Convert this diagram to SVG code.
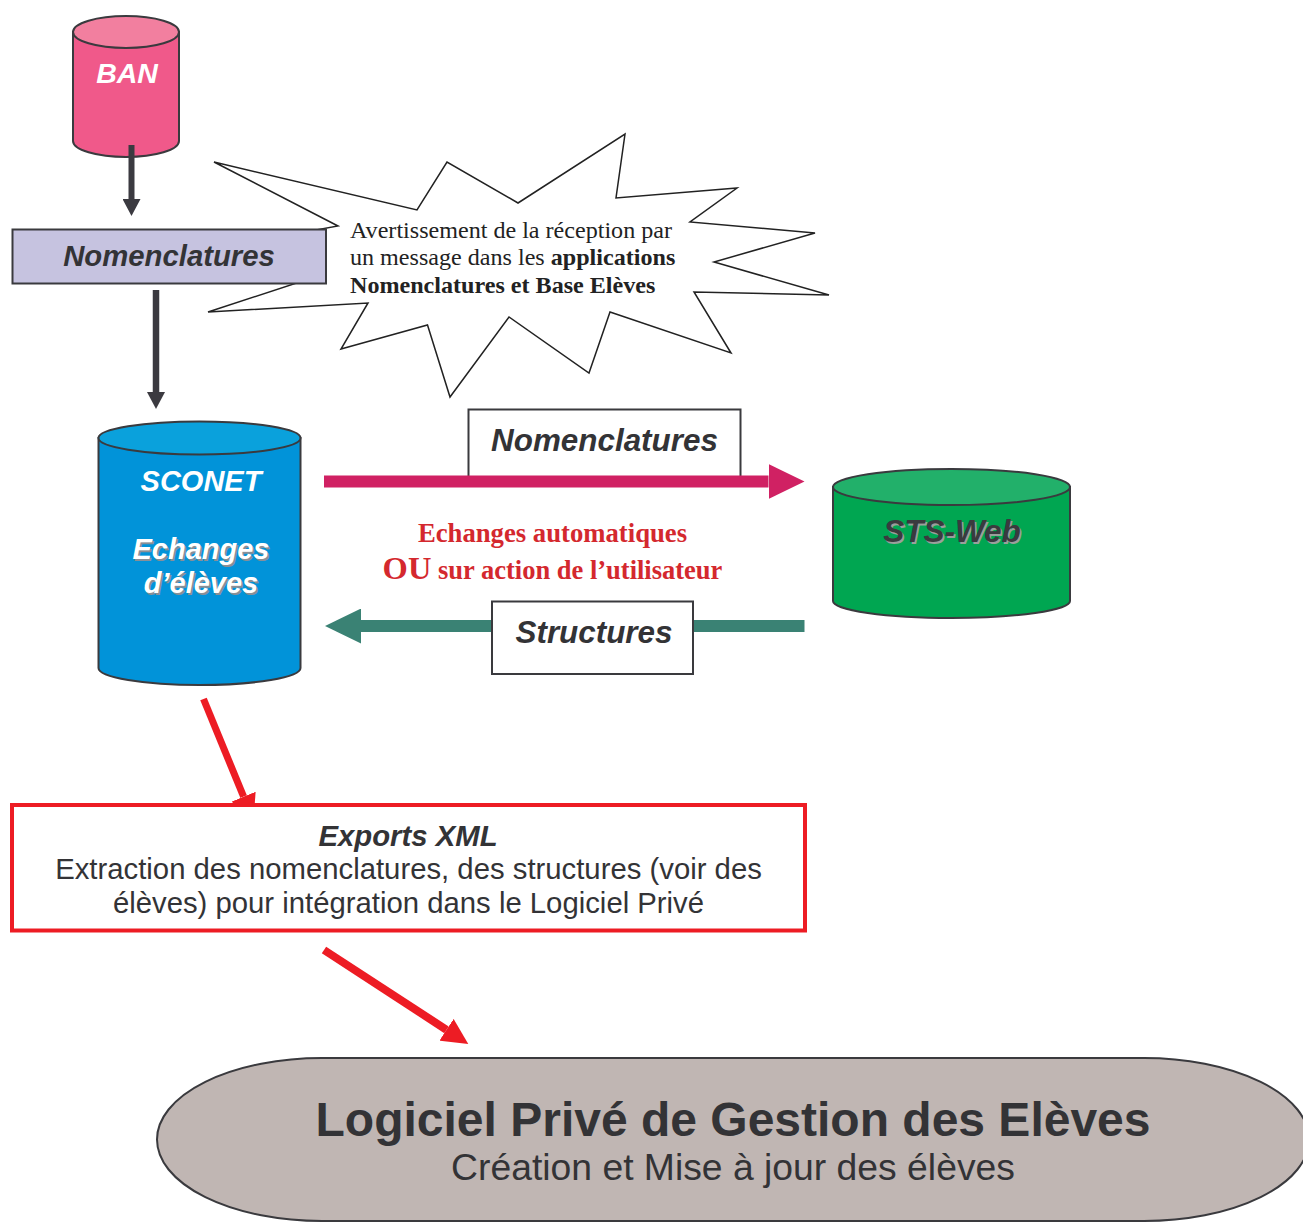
<svg xmlns="http://www.w3.org/2000/svg" width="1303" height="1223" viewBox="0 0 1303 1223">
<defs>
<style>
.sans{font-family:"Liberation Sans",Arial,sans-serif}
.serif{font-family:"Liberation Serif","Times New Roman",serif}
.bi{font-weight:bold;font-style:italic}
.lbl{fill:#333336}
.cyl{stroke:#3a3a3e;stroke-width:2}
</style>
<marker id="hDark" markerUnits="userSpaceOnUse" markerWidth="17" markerHeight="18" refX="0" refY="9" orient="auto"><path d="M0,0 L17,9 L0,18 z" fill="#3b3a40"/></marker>
<marker id="hPink" markerUnits="userSpaceOnUse" markerWidth="36" markerHeight="35" refX="0" refY="17.5" orient="auto"><path d="M0,0 L36,17.5 L0,35 z" fill="#d02163"/></marker>
<marker id="hTeal" markerUnits="userSpaceOnUse" markerWidth="36" markerHeight="35" refX="0" refY="17.5" orient="auto"><path d="M0,0 L36,17.5 L0,35 z" fill="#3a8274"/></marker>
<marker id="hRed" markerUnits="userSpaceOnUse" markerWidth="26" markerHeight="26" refX="0" refY="13" orient="auto"><path d="M0,0 L26,13 L0,26 z" fill="#ed1c24"/></marker>
</defs>

<g id="bubble">
<polygon points="214,162 417,210 447,162 518,203 625,134 616,198 737,188 690,222 815,233 714,262 829,295 694,292 731,353 610,312 589,373 509,317 450,397 427.5,325 341,349 368,303 208,312 315,277 310,231 338,226" fill="#ffffff" stroke="#222" stroke-width="1.5"/>
<text class="serif" font-size="24.1" fill="#222" x="350" y="238">Avertissement de la réception par</text>
<text class="serif" font-size="24.1" fill="#222" x="350" y="265">un message dans les <tspan font-weight="bold">applications</tspan></text>
<text class="serif" font-size="24.1" fill="#222" font-weight="bold" x="350" y="293">Nomenclatures et Base Elèves</text>
</g>

<g id="ban">
<path class="cyl" d="M73,32 L73,141 A53,16 0 0 0 179,141 L179,32 Z" fill="#f0598a"/>
<ellipse class="cyl" cx="126" cy="32" rx="53" ry="16" fill="#f27f9f"/>
<text class="sans bi" font-size="28.5" fill="#ffffff" x="127" y="83" text-anchor="middle">BAN</text>
</g>

<g id="nomenclatures1">
<rect x="12.5" y="229.5" width="313.5" height="54" fill="#c6c3e0" stroke="#3a3a3e" stroke-width="2"/>
<text class="sans bi lbl" font-size="29.3" x="169" y="265.5" text-anchor="middle">Nomenclatures</text>
</g>

<g id="sconet">
<path class="cyl" d="M98.5,438 L98.5,668 A101,17 0 0 0 300.5,668 L300.5,438 Z" fill="#0193d9"/>
<ellipse class="cyl" cx="199.5" cy="438" rx="101" ry="16.5" fill="#0aa1dc"/>
<text class="sans bi" font-size="29" fill="#ffffff" x="201" y="491" text-anchor="middle">SCONET</text>
<text class="sans bi" font-size="29" fill="#8a8f96" x="202.5" y="560.5" text-anchor="middle">Echanges</text>
<text class="sans bi" font-size="29" fill="#8a8f96" x="202.5" y="594.5" text-anchor="middle">d’élèves</text>
<text class="sans bi" font-size="29" fill="#ffffff" x="201" y="559" text-anchor="middle">Echanges</text>
<text class="sans bi" font-size="29" fill="#ffffff" x="201" y="593" text-anchor="middle">d’élèves</text>
</g>

<g id="stsweb">
<path class="cyl" d="M833,487 L833,601 A118.5,17 0 0 0 1070,601 L1070,487 Z" fill="#00a651"/>
<ellipse class="cyl" cx="951.5" cy="487" rx="118.5" ry="18" fill="#22b06a"/>
<text class="sans bi" font-size="31.5" fill="#9aa09c" x="953.5" y="543.5" text-anchor="middle">STS-Web</text>
<text class="sans bi" font-size="31.5" fill="#3a3a3e" x="952" y="542" text-anchor="middle">STS-Web</text>
</g>

<g id="nomenclatures2">
<rect x="468.5" y="409.5" width="272" height="70" fill="#ffffff" stroke="#3a3a3e" stroke-width="2"/>
<text class="sans bi lbl" font-size="31.4" x="604.5" y="451" text-anchor="middle">Nomenclatures</text>
</g>

<g id="connectors">
<line x1="131.5" y1="145" x2="131.5" y2="199" stroke="#3b3a40" stroke-width="6" marker-end="url(#hDark)"/>
<line x1="156" y1="290" x2="156" y2="392" stroke="#3b3a40" stroke-width="6.5" marker-end="url(#hDark)"/>
<line x1="324" y1="481.5" x2="768.5" y2="481.5" stroke="#d02163" stroke-width="12" marker-end="url(#hPink)"/>
<line x1="804.5" y1="626" x2="361" y2="626" stroke="#3a8274" stroke-width="12" marker-end="url(#hTeal)"/>
<line x1="203.5" y1="699" x2="243.6" y2="796.7" stroke="#ed1c24" stroke-width="7" marker-end="url(#hRed)"/>
<line x1="324" y1="950" x2="446.5" y2="1029.8" stroke="#ed1c24" stroke-width="8" marker-end="url(#hRed)"/>
</g>

<g id="structures">
<rect x="492" y="601.5" width="201" height="72.5" fill="#ffffff" stroke="#3a3a3e" stroke-width="2"/>
<text class="sans bi lbl" font-size="31.4" x="594" y="643" text-anchor="middle">Structures</text>
</g>

<g id="echanges-label">
<text class="serif" font-weight="bold" font-size="26.7" fill="#d4282e" x="552.5" y="542" text-anchor="middle">Echanges automatiques</text>
<text class="serif" font-weight="bold" font-size="26.5" fill="#d4282e" x="552.5" y="579" text-anchor="middle"><tspan font-size="32.5">OU</tspan> sur action de l’utilisateur</text>
</g>

<g id="exports">
<rect x="12" y="805" width="793" height="125.5" fill="#ffffff" stroke="#ed1c24" stroke-width="4"/>
<text class="sans bi lbl" font-size="29.3" x="408" y="846" text-anchor="middle">Exports XML</text>
<text class="sans lbl" font-size="29.3" x="408.5" y="879" text-anchor="middle">Extraction des nomenclatures, des structures (voir des</text>
<text class="sans lbl" font-size="29.3" x="408.5" y="913" text-anchor="middle">élèves) pour intégration dans le Logiciel Privé</text>
</g>

<g id="logiciel">
<rect x="157" y="1058" width="1152" height="163" rx="165" ry="81.5" fill="#c0b6b3" stroke="#3a3a3e" stroke-width="2"/>
<text class="sans lbl" font-weight="bold" font-size="48" x="733" y="1136" text-anchor="middle">Logiciel Privé de Gestion des Elèves</text>
<text class="sans lbl" font-size="37.3" x="733" y="1180" text-anchor="middle">Création et Mise à jour des élèves</text>
</g>
</svg>
